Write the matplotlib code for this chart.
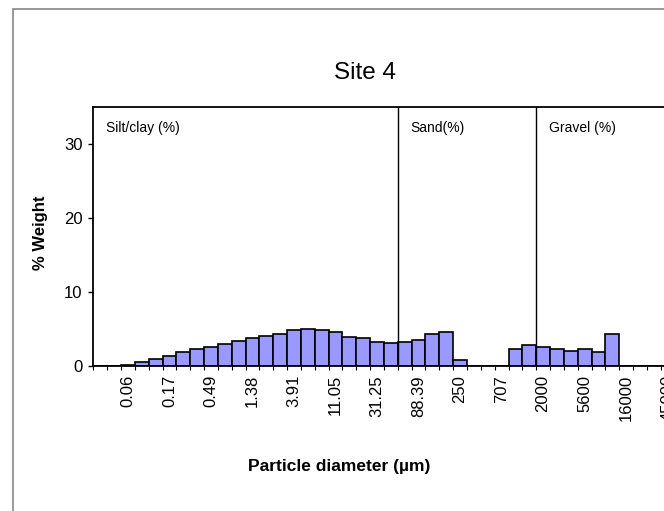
import matplotlib
matplotlib.use("Agg")
import matplotlib.pyplot as plt
from matplotlib.patches import Rectangle

plt.rcParams['font.family'] = ['Liberation Sans', 'DejaVu Sans']

# % weight per half-phi size class (bin index 0..41)
weights = [0, 0, 0.2, 0.5, 0.9, 1.3, 1.9, 2.3, 2.5, 2.95,
           3.4, 3.8, 4.05, 4.3, 4.8, 5.05, 4.9, 4.65, 3.9, 3.8,
           3.3, 3.15, 3.25, 3.55, 4.3, 4.6, 0.8, 0, 0, 0,
           2.25, 2.8, 2.5, 2.35, 2.0, 2.35, 1.9, 4.3, 0, 0,
           0, 0]
label_bins = [2, 5, 8, 11, 14, 17, 20, 23, 26, 29, 32, 35, 38, 41]
tick_labels = ["0.06", "0.17", "0.49", "1.38", "3.91", "11.05", "31.25",
               "88.39", "250", "707", "2000", "5600", "16000", "45000"]
class_edges = [22, 32]  # silt/clay | sand | gravel
class_names = ["Silt/clay (%)", "Sand(%)", "Gravel (%)"]
class_starts = [0, 22, 32]

W, H = 664, 511
fig = plt.figure(figsize=(W / 100, H / 100), dpi=100)
nb = len(weights)
left, right, top, bottom = 93.3, 93.3 + 13.84 * nb, 106.5, 366
ax = fig.add_axes([left / W, (H - bottom) / H, (right - left) / W, (bottom - top) / H])

ax.bar(range(nb), weights, width=1, align='edge', color='#9999FF',
       edgecolor='black', linewidth=1.2, zorder=2)
for e in class_edges:
    ax.axvline(e, color='black', linewidth=1.0, zorder=3)
for s, name in zip(class_starts, class_names):
    ax.text(s + 0.9, 32.1, name, fontsize=10, va='center', ha='left')

ax.set_xlim(0, nb)
ax.set_ylim(0, 35)
ax.set_yticks([0, 10, 20, 30])
ax.tick_params(axis='y', direction='out', length=3.6, width=1, pad=4, labelsize=12)
ax.set_xticks(range(nb + 1))
ax.set_xticklabels([])
ax.tick_params(axis='x', which='major', direction='out', length=3, width=0.8)
ax.set_xticks([b + 0.5 for b in label_bins], minor=True)
ax.set_xticklabels(tick_labels, minor=True, rotation=90, fontsize=12)
ax.tick_params(axis='x', which='minor', length=0, pad=6.5)
for sp in ax.spines.values():
    sp.set_linewidth(1.3)

fig.text(365 / W, (H - 73) / H, "Site 4", fontsize=17.5, ha='center', va='center')
fig.text(40 / W, (H - 233) / H, "% Weight", fontsize=12, fontweight='bold',
         rotation=90, ha='center', va='center')
fig.text(339 / W, (H - 466) / H, "Particle diameter (\u00b5m)", fontsize=12.5,
         fontweight='bold', ha='center', va='center')

# outer chart frame, cut off on the right and bottom
fig.patches.append(Rectangle((13 / W, -0.2), 2, (H - 9) / H + 0.2,
                             transform=fig.transFigure, fill=False,
                             edgecolor='#888888', linewidth=1.2))

fig.savefig("out.png", dpi=100)
